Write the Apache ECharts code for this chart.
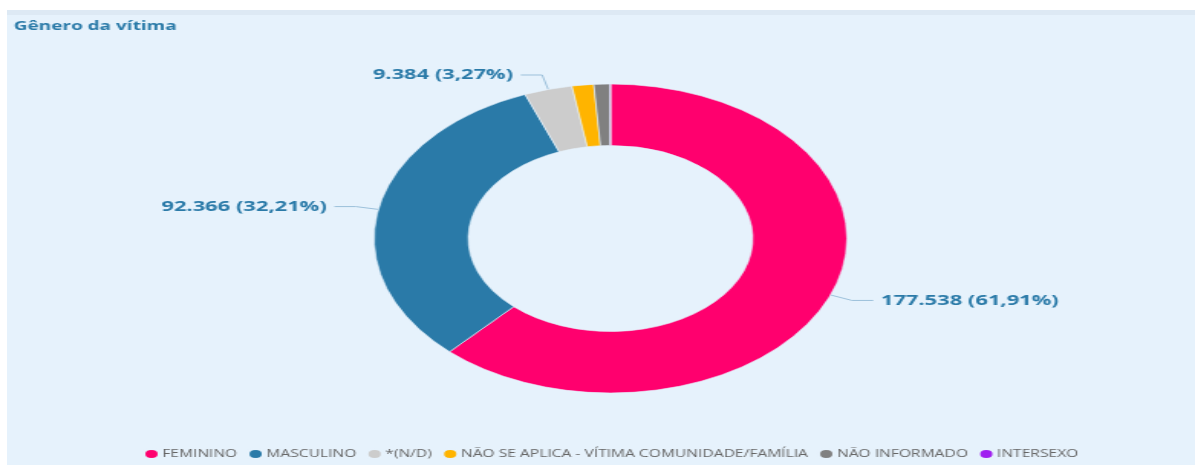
<!DOCTYPE html>
<html>
<head>
<meta charset="utf-8">
<script src="https://cdn.jsdelivr.net/npm/echarts@6/dist/echarts.min.js"></script>
<style>
  html, body { margin: 0; padding: 0; background: #fff; }
  body { width: 1195px; height: 465px; position: relative; overflow: hidden; }
  /* painel de fundo */
  .panel {
    position: absolute; left: 7px; top: 10px; width: 1188px; height: 455px;
    background: #e6f2fc; border-top: 5px solid #dde9f4; box-sizing: border-box;
  }
  /* o gráfico original está esticado na horizontal */
  #chart {
    position: absolute; left: 0; top: 0; width: 781px; height: 465px;
    transform: scaleX(1.5301); transform-origin: 0 0;
  }
</style>
</head>
<body>
<div class="panel"></div>
<div id="chart"></div>
<script>
// dados do gráfico
const categories = ['FEMININO', 'MASCULINO', '*(N/D)', 'NÃO SE APLICA - VÍTIMA COMUNIDADE/FAMÍLIA', 'NÃO INFORMADO', 'INTERSEXO']
const values = [177538, 92366, 9384, 4250, 3150, 80]
const colors = ['#ff006e', '#2a7aa8', '#cccccc', '#ffb400', '#808080', '#a020f0']

const total = values.reduce((a, b) => a + b, 0)

// formata número no padrão pt-BR
function fmt(v) {
  return v.toLocaleString('pt-BR')
}

const chart = echarts.init(document.getElementById('chart'))

const option = {
  animation: false,
  backgroundColor: 'transparent',
  color: colors,
  title: {
    text: 'Gênero da vítima',
    left: 4,
    top: 15,
    textStyle: {
      fontFamily: 'Open Sans',
      fontSize: 12.4,
      fontWeight: 'bold',
      color: '#2a7aa8'
    }
  },
  legend: {
    bottom: 0,
    left: 88,
    icon: 'circle',
    itemWidth: 10,
    itemHeight: 10,
    itemGap: 6,
    textStyle: {
      fontFamily: 'Open Sans',
      fontSize: 10.2,
      color: '#666',
      padding: [0, 0, 0, -3]
    },
    data: categories
  },
  series: [
    {
      type: 'pie',
      center: [399, 238.5],
      radius: [93, 154.5],
      startAngle: 90,
      clockwise: true,
      minShowLabelAngle: 8,
      avoidLabelOverlap: false,
      itemStyle: {
        borderColor: '#e6f2fc',
        borderWidth: 0.6
      },
      label: {
        show: true,
        fontFamily: 'Open Sans',
        fontSize: 14.3,
        fontWeight: 'bold',
        color: '#2a7aa8',
        formatter: p => fmt(p.value) + ' (' + (p.value / total * 100).toFixed(2).replace('.', ',') + '%)'
      },
      labelLine: {
        show: true,
        length: 15,
        length2: 14,
        lineStyle: { color: '#9cc0da', width: 1 }
      },
      data: categories.map((c, i) => ({ name: c, value: values[i] }))
    }
  ]
}

chart.setOption(option)
</script>
</body>
</html>
